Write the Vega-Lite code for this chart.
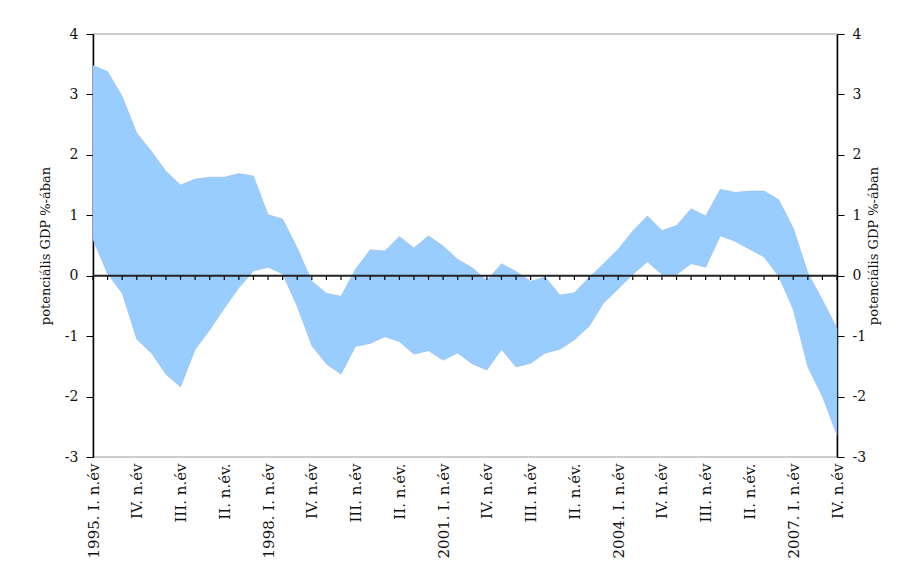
{
  "$schema": "https://vega.github.io/schema/vega-lite/v6.json",
  "width": 744,
  "height": 423,
  "autosize": {"type": "none"},
  "padding": {"left": 93, "top": 34, "right": 69, "bottom": 105},
  "config": {
    "view": {"stroke": "#bdbdbd", "strokeWidth": 1.5},
    "font": "DejaVu Serif",
    "axis": {"labelFont": "DejaVu Serif", "titleFont": "DejaVu Serif", "labelColor": "#111", "titleColor": "#111", "grid": false}
  },
  "data": {
    "values": [
      {"period": "1995-Q1", "upper": 3.48, "lower": 0.60},
      {"period": "1995-Q2", "upper": 3.38, "lower": 0.03},
      {"period": "1995-Q3", "upper": 2.97, "lower": -0.29},
      {"period": "1995-Q4", "upper": 2.36, "lower": -1.05},
      {"period": "1996-Q1", "upper": 2.06, "lower": -1.28},
      {"period": "1996-Q2", "upper": 1.73, "lower": -1.63},
      {"period": "1996-Q3", "upper": 1.50, "lower": -1.84},
      {"period": "1996-Q4", "upper": 1.60, "lower": -1.22},
      {"period": "1997-Q1", "upper": 1.63, "lower": -0.90},
      {"period": "1997-Q2", "upper": 1.63, "lower": -0.54},
      {"period": "1997-Q3", "upper": 1.69, "lower": -0.20},
      {"period": "1997-Q4", "upper": 1.65, "lower": 0.08},
      {"period": "1998-Q1", "upper": 1.01, "lower": 0.14},
      {"period": "1998-Q2", "upper": 0.94, "lower": 0.03},
      {"period": "1998-Q3", "upper": 0.46, "lower": -0.51},
      {"period": "1998-Q4", "upper": -0.09, "lower": -1.16},
      {"period": "1999-Q1", "upper": -0.29, "lower": -1.46},
      {"period": "1999-Q2", "upper": -0.34, "lower": -1.63},
      {"period": "1999-Q3", "upper": 0.11, "lower": -1.17},
      {"period": "1999-Q4", "upper": 0.43, "lower": -1.12},
      {"period": "2000-Q1", "upper": 0.41, "lower": -1.01},
      {"period": "2000-Q2", "upper": 0.65, "lower": -1.09},
      {"period": "2000-Q3", "upper": 0.46, "lower": -1.30},
      {"period": "2000-Q4", "upper": 0.66, "lower": -1.24},
      {"period": "2001-Q1", "upper": 0.49, "lower": -1.40},
      {"period": "2001-Q2", "upper": 0.27, "lower": -1.28},
      {"period": "2001-Q3", "upper": 0.13, "lower": -1.46},
      {"period": "2001-Q4", "upper": -0.08, "lower": -1.56},
      {"period": "2002-Q1", "upper": 0.20, "lower": -1.22},
      {"period": "2002-Q2", "upper": 0.07, "lower": -1.51},
      {"period": "2002-Q3", "upper": -0.09, "lower": -1.45},
      {"period": "2002-Q4", "upper": -0.02, "lower": -1.28},
      {"period": "2003-Q1", "upper": -0.32, "lower": -1.22},
      {"period": "2003-Q2", "upper": -0.28, "lower": -1.06},
      {"period": "2003-Q3", "upper": -0.03, "lower": -0.84},
      {"period": "2003-Q4", "upper": 0.20, "lower": -0.45},
      {"period": "2004-Q1", "upper": 0.44, "lower": -0.22},
      {"period": "2004-Q2", "upper": 0.74, "lower": 0.02},
      {"period": "2004-Q3", "upper": 0.99, "lower": 0.23},
      {"period": "2004-Q4", "upper": 0.75, "lower": 0.02},
      {"period": "2005-Q1", "upper": 0.83, "lower": 0.02},
      {"period": "2005-Q2", "upper": 1.11, "lower": 0.20},
      {"period": "2005-Q3", "upper": 0.99, "lower": 0.14},
      {"period": "2005-Q4", "upper": 1.43, "lower": 0.66},
      {"period": "2006-Q1", "upper": 1.38, "lower": 0.57},
      {"period": "2006-Q2", "upper": 1.40, "lower": 0.44},
      {"period": "2006-Q3", "upper": 1.40, "lower": 0.31},
      {"period": "2006-Q4", "upper": 1.26, "lower": -0.01},
      {"period": "2007-Q1", "upper": 0.79, "lower": -0.56},
      {"period": "2007-Q2", "upper": 0.05, "lower": -1.51},
      {"period": "2007-Q3", "upper": -0.40, "lower": -2.00},
      {"period": "2007-Q4", "upper": -0.87, "lower": -2.64}
    ]
  },
  "layer": [
    {
      "mark": {"type": "area", "color": "#99ccff", "opacity": 1, "stroke": "#8fb8e6", "strokeWidth": 0.5},
      "encoding": {
        "x": {
          "field": "period", "type": "ordinal", "sort": null,
          "scale": {"type": "point", "padding": 0},
          "axis": {
            "title": null, "domain": false, "ticks": false, "labelAngle": -90, "labelFontSize": 15, "labelPadding": 6,
            "values": ["1995-Q1","1995-Q4","1996-Q3","1997-Q2","1998-Q1","1998-Q4","1999-Q3","2000-Q2","2001-Q1","2001-Q4","2002-Q3","2003-Q2","2004-Q1","2004-Q4","2005-Q3","2006-Q2","2007-Q1","2007-Q4"],
            "labelExpr": "substring(datum.value,6,7)=='1' ? substring(datum.value,0,4)+'. I. n.év' : substring(datum.value,6,7)=='2' ? 'II. n.év.' : substring(datum.value,6,7)=='3' ? 'III. n.év' : 'IV. n.év'"
          }
        },
        "y": {
          "field": "upper", "type": "quantitative",
          "scale": {"domain": [-3, 4], "nice": false, "zero": false},
          "axis": {
            "orient": "left", "title": "potenciális GDP %-ában", "titleFontSize": 13, "titleFontWeight": "normal", "titlePadding": 12,
            "values": [-3, -2, -1, 0, 1, 2, 3, 4], "labelExpr": "'' + datum.value", "labelFontSize": 14, "labelPadding": 8,
            "tickSize": 7, "tickColor": "#000", "domainColor": "#000", "domainWidth": 1.5
          }
        },
        "y2": {"field": "lower"}
      }
    },
    {
      "mark": {"type": "rule", "color": "#000", "strokeWidth": 1.2},
      "encoding": {
        "x": {"field": "period", "type": "ordinal", "sort": null},
        "y": {"datum": 0, "type": "quantitative", "scale": {"domain": [-3, 4], "nice": false, "zero": false}, "axis": null},
        "y2": {"datum": -0.07}
      }
    },
    {
      "data": {"values": [{"level": 0}]},
      "mark": {"type": "rule", "color": "#222", "strokeWidth": 2},
      "encoding": {
        "y": {
          "field": "level", "type": "quantitative",
          "scale": {"domain": [-3, 4], "nice": false, "zero": false},
          "axis": {
            "orient": "right", "title": "potenciális GDP %-ában", "titleFontSize": 13, "titleFontWeight": "normal", "titleAngle": 270, "titlePadding": 15,
            "values": [-3, -2, -1, 0, 1, 2, 3, 4], "labelExpr": "'' + datum.value", "labelFontSize": 14, "labelPadding": 8,
            "tickSize": 7, "tickColor": "#000", "domainColor": "#000", "domainWidth": 1.5
          }
        }
      }
    }
  ],
  "resolve": {"scale": {"y": "independent"}, "axis": {"y": "independent"}}
}
